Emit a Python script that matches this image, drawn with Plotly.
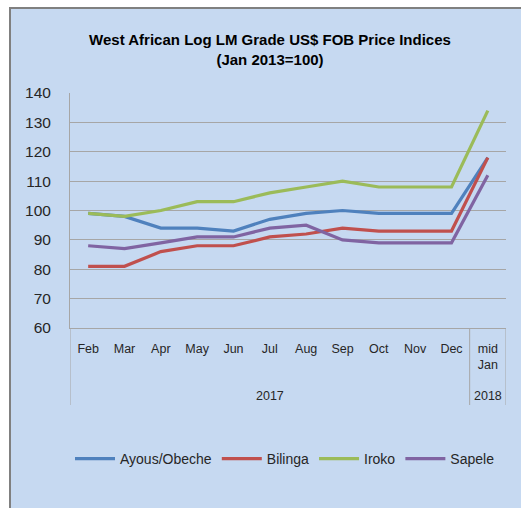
import plotly.graph_objects as go

months = ["Feb", "Mar", "Apr", "May", "Jun", "Jul", "Aug", "Sep", "Oct", "Nov", "Dec", "mid<br>Jan"]
years = ["2017", "2018"]
ayous = [99, 98, 94, 94, 93, 97, 99, 100, 99, 99, 99, 118]
bilinga = [81, 81, 86, 88, 88, 91, 92, 94, 93, 93, 93, 118]
iroko = [99, 98, 100, 103, 103, 106, 108, 110, 108, 108, 108, 134]
sapele = [88, 87, 89, 91, 91, 94, 95, 90, 89, 89, 89, 112]

series = [
    ("Ayous/Obeche", ayous, "#4F81BD"),
    ("Bilinga", bilinga, "#C0504D"),
    ("Iroko", iroko, "#9BBB59"),
    ("Sapele", sapele, "#8064A2"),
]

W, H = 521, 508
PL, PR, PT, PB = 70, 506, 93, 328
FONT = "Liberation Sans, Arial, sans-serif"


def px(x):
    return (x - PL) / (PR - PL)


def py(y):
    return (PB - y) / (PB - PT)


xs = list(range(len(months)))
fig = go.Figure()
for name, vals, col in series:
    fig.add_trace(go.Scatter(x=xs, y=vals, name=name, mode="lines",
                             line=dict(color=col, width=3.2)))

shapes = [
    dict(type="rect", xref="paper", yref="paper", x0=px(10), x1=px(540), y0=py(8), y1=py(530),
         fillcolor="#C6D9F1", line=dict(color="#808080", width=2), layer="below"),
]
for xv in [-0.5, 10.5, 11.5]:
    shapes.append(dict(type="line", xref="x", yref="paper", x0=xv, x1=xv, y0=0, y1=py(405),
                       line=dict(color="#A6A6A6", width=1)))

fig.update_layout(
    width=W, height=H,
    margin=dict(l=PL, r=W - PR, t=PT, b=H - PB, autoexpand=False),
    paper_bgcolor="white", plot_bgcolor="white",
    font=dict(family=FONT, color="#262626"),
    title=dict(text="<b>West African Log LM Grade US$ FOB Price Indices<br>(Jan 2013=100)</b>",
               x=270 / W, xanchor="center", y=1 - 45 / H, yanchor="middle",
               font=dict(size=15, color="#000000", family=FONT)),
    showlegend=True,
    legend=dict(orientation="h", xref="container", yref="container",
                x=285 / W, xanchor="center", y=1 - 459 / H, yanchor="middle",
                font=dict(size=14, color="#262626"), bgcolor="rgba(0,0,0,0)", itemwidth=40,
                traceorder="normal"),
    shapes=shapes,
    annotations=[
        dict(text=years[0], x=5, y=py(396), xref="x", yref="paper", showarrow=False,
             yanchor="middle", font=dict(size=12.5, color="#262626")),
        dict(text=years[1], x=11, y=py(396), xref="x", yref="paper", showarrow=False,
             yanchor="middle", font=dict(size=12.5, color="#262626")),
    ],
)
fig.update_xaxes(range=[-0.5, 11.5], tickvals=xs, ticktext=months, showgrid=False,
                 showline=True, linecolor="#A6A6A6", linewidth=1, ticks="", automargin=False,
                 tickfont=dict(size=12.5, color="#262626"), ticklabelstandoff=9, zeroline=False)
fig.update_yaxes(range=[60, 140], dtick=10, showgrid=True, gridcolor="#A6A6A6", gridwidth=1,
                 showline=True, linecolor="#A6A6A6", linewidth=1, ticks="", automargin=False,
                 tickfont=dict(size=15.5, color="#262626"), ticklabelstandoff=15, zeroline=False)

fig.write_html("out.html", config={"displayModeBar": False},
               post_script="document.body.style.margin='0';document.body.style.overflow='hidden';")
